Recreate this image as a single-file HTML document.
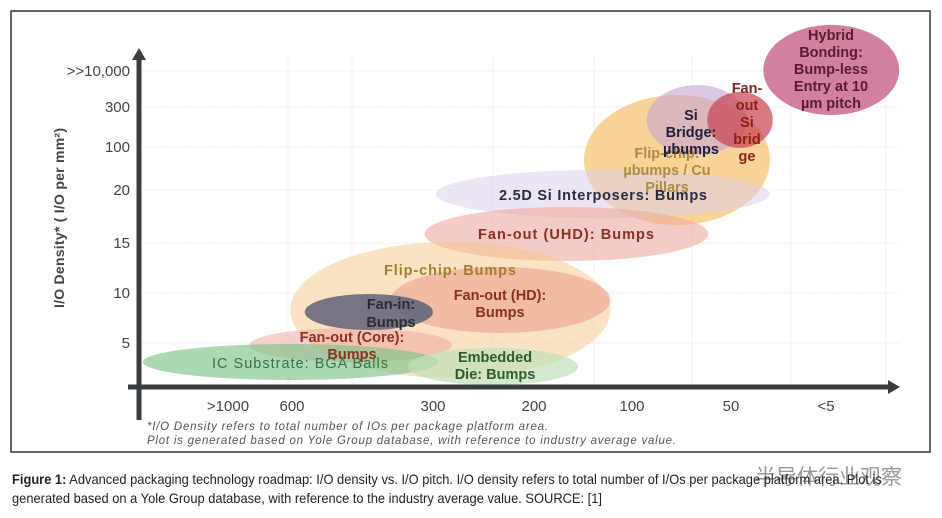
<!DOCTYPE html>
<html><head><meta charset="utf-8"><style>
body{margin:0;background:#fff;width:942px;height:518px;overflow:hidden;font-family:"Liberation Sans",sans-serif}
svg{position:absolute;left:0;top:0}
.cap{position:absolute;left:12px;top:470px;font-family:"Liberation Sans","Noto Sans CJK SC",sans-serif;font-size:14px;line-height:19px;color:#222;transform:scaleX(0.92);transform-origin:0 0;white-space:nowrap}
.cap b{font-weight:bold}
</style></head><body>
<svg width="942" height="518">
<rect x="11" y="11" width="919" height="441" fill="#fff" stroke="#333" stroke-width="1.5"/>
<g id="grid"></g>
<g id="ells"></g>
<g id="axes">
<line x1="139" y1="58" x2="139" y2="420" stroke="#3a3d40" stroke-width="5"/>
<polygon points="132,60 139,48 146,60" fill="#3a3d40"/>
<line x1="128" y1="387" x2="890" y2="387" stroke="#3a3d40" stroke-width="5"/>
<polygon points="888,380 900,387 888,394" fill="#3a3d40"/>
</g>
<g id="ticks" font-size="15" fill="#444"></g>
<text transform="translate(64,218) rotate(-90)" text-anchor="middle" font-size="14" font-weight="bold" fill="#444" textLength="180">I/O Density* ( I/O per mm²)</text>
<g font-size="14.5" font-weight="bold" text-anchor="middle">
<text fill="#5a1a30"><tspan x="831" y="40">Hybrid</tspan><tspan x="831" y="57">Bonding:</tspan><tspan x="831" y="74">Bump-less</tspan><tspan x="831" y="91">Entry at 10</tspan><tspan x="831" y="108">µm pitch</tspan></text>
<text fill="#a08030" opacity="0.85"><tspan x="667" y="158">Flip-chip:</tspan><tspan x="667" y="175">µbumps / Cu</tspan><tspan x="667" y="192">Pillars</tspan></text>
<text fill="#1e1e3a"><tspan x="691" y="120">Si</tspan><tspan x="691" y="137">Bridge:</tspan><tspan x="691" y="154">µbumps</tspan></text>
<text fill="#8a2018"><tspan x="747" y="93">Fan-</tspan><tspan x="747" y="110">out</tspan><tspan x="747" y="127">Si</tspan><tspan x="747" y="144">brid</tspan><tspan x="747" y="161">ge</tspan></text>
<text x="603" y="200" fill="#2a2a40" textLength="208">2.5D Si Interposers: Bumps</text>
<text x="566" y="239" fill="#8a3020" textLength="176">Fan-out (UHD): Bumps</text>
<text x="450" y="275" fill="#a08030" textLength="132">Flip-chip: Bumps</text>
<text fill="#8a3020"><tspan x="500" y="300">Fan-out (HD):</tspan><tspan x="500" y="317">Bumps</tspan></text>
<text fill="#2a2a3a"><tspan x="391" y="309">Fan-in:</tspan><tspan x="391" y="327">Bumps</tspan></text>
<text fill="#8a3020"><tspan x="352" y="342">Fan-out (Core):</tspan><tspan x="352" y="359">Bumps</tspan></text>
<text x="300" y="368" fill="#3a7050" font-weight="normal" textLength="176">IC Substrate: BGA Balls</text>
<text fill="#2f5a30"><tspan x="495" y="362">Embedded</tspan><tspan x="495" y="379">Die: Bumps</tspan></text>
</g>
<g font-size="11.5" font-style="italic" fill="#555">
<text x="147" y="430" textLength="401">*I/O Density refers to total number of IOs per package platform area.</text>
<text x="147" y="444" textLength="529">Plot is generated based on Yole Group database, with reference to industry average value.</text>
</g>
<text x="755" y="484" font-size="21" fill="#999" font-family="'Noto Sans CJK SC',sans-serif">半导体行业观察</text>
</svg>
<div class="cap"><b>Figure 1:</b> Advanced packaging technology roadmap: I/O density vs. I/O pitch. I/O density refers to total number of I/Os per package platform area. Plot is<br>generated based on a Yole Group database, with reference to the industry average value. SOURCE: [1]</div>
<script>
const xTickLabels=[">1000","600","300","200","100","50","<5"];
const yTickLabels=["5","10","15","20","100","300",">>10,000"];
const techNames=["hybrid","flipchip-ubumps","si-bridge","fanout-si-bridge","interposer","fanout-uhd","flipchip-bumps","fanout-hd","fanin","fanout-core","ic-substrate","embedded-die"];
const xStart=[5.34,3.51,4.15,4.76,2.03,1.94,0.97,1.70,1.09,0.34,-1.33,1.82];
const xEnd=[6.77,5.41,5.17,5.44,5.41,4.77,3.78,3.78,2.00,2.19,2.05,3.45];
const yTop=[7.28,5.33,5.61,5.42,3.47,2.68,2.02,1.52,0.98,0.30,-0.02,-0.10];
const yBottom=[4.80,2.34,3.81,3.98,2.47,1.64,-0.70,0.20,0.26,-0.38,-0.74,-0.84];
const fills=["#c04a78","#f5b850","#c4a4d4","#c8404e","#ddd0ea","#eea8a0","#f6c888","#eca08c","#5e6275","#f0a8a4","#7cc488","#bfe0b8"];
const opac=[0.7,0.6,0.6,0.7,0.55,0.6,0.5,0.6,0.85,0.55,0.65,0.7];
const XP=[228,292,433,534,632,731,826], YP=[343,293,243,190,147,107,71];
function interp(P,v){const n=P.length-1;if(v<=0)return P[0]+(P[1]-P[0])*v;if(v>=n)return P[n]+(P[n]-P[n-1])*(v-n);const i=Math.floor(v),f=v-i;return P[i]+(P[i+1]-P[i])*f;}
const sx=v=>interp(XP,v), sy=v=>interp(YP,v);
const NS="http://www.w3.org/2000/svg";
const grid=document.getElementById('grid'),ells=document.getElementById('ells'),ticks=document.getElementById('ticks');
yTickLabels.forEach((t,i)=>{
 const l=document.createElementNS(NS,'line');l.setAttribute('x1',142);l.setAttribute('x2',900);l.setAttribute('y1',sy(i));l.setAttribute('y2',sy(i));l.setAttribute('stroke','#eee');l.setAttribute('stroke-dasharray','2,1');
 
 
 grid.appendChild(l);
 const tx=document.createElementNS(NS,'text');tx.setAttribute('x',130);tx.setAttribute('y',sy(i)+5);tx.setAttribute('text-anchor','end');tx.textContent=t;
 
 
 ticks.appendChild(tx);
});
xTickLabels.forEach((t,i)=>{
 const l=document.createElementNS(NS,'line');l.setAttribute('x1',sx(i)+60);l.setAttribute('x2',sx(i)+60);l.setAttribute('y1',55);l.setAttribute('y2',385);l.setAttribute('stroke','#f2f2f2');
 
 
 grid.appendChild(l);
 const tx=document.createElementNS(NS,'text');tx.setAttribute('x',sx(i));tx.setAttribute('y',411);tx.setAttribute('text-anchor','middle');tx.textContent=t;
 
 
 ticks.appendChild(tx);
});
const order=[1,2,3,0,4,5,6,7,9,8,10,11];
order.forEach(i=>{
 const x0=sx(xStart[i]),x1=sx(xEnd[i]),y0=sy(yTop[i]),y1=sy(yBottom[i]);
 const e=document.createElementNS(NS,'ellipse');
 e.setAttribute('cx',(x0+x1)/2);e.setAttribute('cy',(y0+y1)/2);e.setAttribute('rx',(x1-x0)/2);e.setAttribute('ry',(y1-y0)/2);
 e.setAttribute('fill',fills[i]);e.setAttribute('fill-opacity',opac[i]);
 
 
 ells.appendChild(e);
});
</script>
</body></html>
